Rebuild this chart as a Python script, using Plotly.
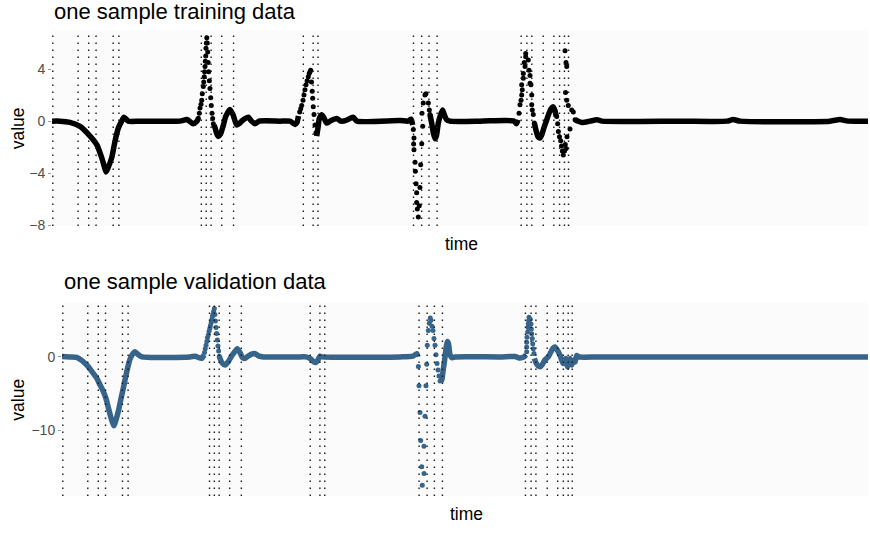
import plotly.graph_objects as go

# ---------------- training sample ----------------
# smooth stretches of the signal (None separates the stretches)
train_line_time = [
    0, 9.8, 22.1, 34.3, 45.3, 54.8, 60.9, 63.7, 66.2, 68.6, 73.2, 77.2, 81.2, 85.4, 88.2, 93.5,
    107.8, 156.9, 165.4, 172.8, 177.7, 179.3, None,
    198.5, 199.8, 201.8, 203.8, 206.5, 209.6, 213.2, 218.1, 221.8, 226.3, 229.2, 232.5, 236.5,
    240.6, 244.5, 248.8, 253.7, 279.4, 291.7, 297.8, 300.2, 302.0, None,
    324.4, 326.0, 327.6, 330.5, 333.3, 336.6, 340.7, 348.9, 354.2, 360.3, 368.9, 373.8, 426.5,
    436.3, 440.0, 442.0, None,
    463.2, 465.3, 467.3, 469.4, 471.2, 473.4, 475.5, 478.6, 480.8, 483.7, 487.7, 524.5, 555.1,
    566.2, 569.2, 571.1, None,
    591.1, 594.0, 595.6, 598.0, 600.5, 602.9, 606.3, 609.1, 611.5, 614.3, 616.4, 617.9, None,
    641.0, 644.6, 649.5, 659.3, 667.9, 674.0, 769.6, 827.2, 834.6, 843.1, 953.4, 965.7, 975.5, 1000,
]
train_line_value = [
    0, 0, -0.1, -0.4, -1.05, -1.8, -2.8, -3.4, -3.9, -3.6, -2.8, -1.55, -0.55, 0.0, 0.3, 0.0,
    0.0, 0.0, 0.12, -0.2, 0.0, 0.2, None,
    -0.3, -0.5, -0.95, -1.17, -1.0, -0.4, 0.4, 0.9, 0.5, -0.3, -0.2, 0.0, 0.2,
    0.3, 0.0, -0.2, 0.0, 0.0, 0.0, -0.25, -0.1, 0.4, None,
    -1.15, -0.5, 0.2, 0.5, 0.25, -0.15, 0.0, 0.2, 0.0, 0.05, 0.3, 0.0, 0.05,
    0.0, 0.15, -0.3, None,
    0.5, -0.15, -0.9, -1.35, -1.1, -0.15, 0.35, 0.85, 0.5, 0.1, 0.0, 0.0, 0.05,
    0.0, -0.2, 0.1, None,
    -0.15, -0.9, -1.2, -1.3, -1.0, -0.5, 0.1, 0.6, 0.95, 1.1, 0.8, 0.35, None,
    0.1, 0.0, -0.1, 0.0, 0.1, 0.0, 0.0, 0.0, 0.12, 0.0, 0.0, 0.12, 0.0, 0.0,
]
# individual samples around the sharp events
train_spike_time = [
    179.3, 180.5, 181.4, 182.6, 183.5, 184.2, 185.4, 186.0, 186.6, 187.0, 187.5, 187.9, 188.4,
    188.7, 189.2, 189.7, 190.3, 190.8, 191.4, 192.0, 192.8, 193.6, 194.5, 195.2, 196.1, 196.9, 197.7,
    303.5, 304.8, 306.0, 307.6, 308.8, 310.0, 311.3, 312.7, 314.1, 315.2, 316.2, 317.0, 318.0,
    318.9, 319.5, 320.2, 321.1, 322.3, 323.5,
    442.8, 443.6, 443.2, 443.6, 444.9, 445.3, 446.1, 446.9, 446.9, 447.7, 448.9, 450.1, 450.9,
    451.8, 453.1, 454.3, 453.4, 455.0, 457.1, 458.3, 461.2, 462.4, 463.2,
    572.3, 573.5, 574.8, 575.6, 576.3, 575.6, 577.6, 577.6, 579.7, 578.8, 580.5, 580.5,
    583.7, 584.6, 585.8, 585.8, 587.0, 587.9, 587.9, 588.6, 589.8, 591.1,
    618.5, 619.7, 620.5, 621.9, 623.4, 624.4, 625.4, 626.6, 628.1, 629.0, 630.1, 631.1,
    628.7, 629.9, 630.8, 629.3, 630.8, 632.7, 634.8, 636.9, 638.9, 641.0,
]
train_spike_value = [
    0.23, 0.6, 1.0, 1.3, 1.6, 2.1, 2.65, 3.0, 3.4, 3.8, 4.2, 4.6, 5.0,
    5.6, 6.0, 6.4, 6.0, 5.3, 4.5, 3.8, 3.1, 2.5, 1.8, 1.2, 0.6, 0.2, -0.2,
    0.7, 0.95, 1.2, 1.6, 2.0, 2.4, 2.8, 3.1, 3.4, 3.65, 3.8, 3.9, 3.0,
    2.3, 1.75, 1.1, 0.5, -0.3, -0.9,
    -0.65, -1.3, -1.75, -2.2, -3.15, -3.85, -4.8, -5.5, -6.25, -6.75, -7.35, -6.5, -5.1,
    -3.35, -1.73, -0.4, 0.6, 1.4, 2.0, 2.1, 1.4, 0.85, 0.5,
    0.6, 1.25, 1.6, 2.0, 2.4, 2.8, 3.3, 3.65, 4.2, 4.5, 4.95, 5.2,
    4.7, 3.9, 3.5, 2.9, 2.8, 2.0, 1.25, 0.85, 0.5, -0.15,
    0.35, -0.2, -0.8, -1.2, -1.5, -1.9, -2.3, -2.6, -2.3, -1.8, -2.1, -1.2,
    5.4, 4.5, 4.2, 2.2, 1.6, 1.2, -0.6, 0.85, 0.7, 0.1,
]

# ---------------- validation sample ----------------
valid_line_time = [
    0, 9.9, 18.2, 24.8, 30.6, 37.2, 43.1, 47.1, 51.2, 54.6, 57.4, 60.8, 64.5, 67.0, 69.9, 73.2,
    76.1, 79.4, 82.3, 84.4, 86.5, 90.6, 94.7, 99.3, 158.8, 165.0, 173.3, 176.2, None,
    195.2, 196.0, 198.5, 202.2, 206.0, 209.7, 212.5, 217.5, 220.8, 223.9, 227.0, 230.8, 234.5,
    239.5, 244.4, 249.8, 295.3, 302.7, 307.7, 312.7, 315.1, 317.6, 320.1, 322.6, 419.4, 435.5,
    440.1, 441.7, None,
    470.2, 471.5, 472.7, 474.6, 476.4, 478.0, 479.5, 481.4, 483.9, 487.6, 543.4, 562.0, 568.2,
    573.2, 575.7, None,
    586.0, 588.1, 590.6, 593.1, 595.5, 599.3, 603.3, 606.7, 609.2, 611.7, 614.1, 617.9, 620.3,
    622.0, 624.1, 625.3, 627.4, 629.0, 630.3, 632.4, 634.0, 636.5, 638.6, 641.4, 667.5, 1000,
]
valid_line_value = [
    0.05, 0.0, -0.05, -0.5, -1.1, -2.0, -2.9, -3.8, -4.7, -5.7, -6.9, -8.3, -9.4, -8.6, -7.4, -5.7,
    -4.25, -2.5, -1.1, -0.3, 0.2, 0.7, 0.3, 0.0, 0.0, 0.1, -0.2, 0.3, None,
    0.1, -0.2, -0.8, -1.1, -0.7, 0.0, 0.45, 1.1, 0.6, -0.1, -0.2, 0.1, 0.35,
    0.45, 0.1, 0.0, 0.0, 0.0, -0.2, -0.7, -0.75, -0.4, 0.1, 0.0, 0.0, 0.1,
    0.45, 0.0, None,
    -3.4, -3.0, -2.0, -0.5, 1.1, 2.1, 1.8, 0.3, -0.1, 0.0, 0.0, 0.05, -0.15,
    0.0, 0.3, None,
    -0.2, -0.8, -1.2, -1.35, -1.1, -0.4, 0.0, 0.7, 1.2, 1.35, 1.0, 0.2, -0.5,
    -0.9, -0.6, -0.2, -1.35, -0.6, -0.2, -1.1, -0.5, -0.7, 0.2, 0.0, 0.0, 0.0,
]
valid_spike_time = [
    176.8, 177.7, 178.7, 179.7, 180.5, 181.5, 182.4, 183.4, 184.2, 185.1, 185.9, 186.6, 187.3,
    188.1, 189.0, 189.7, 190.4, 191.1, 191.8, 192.7, 193.5, 194.3, 195.2,
    442.1, 442.9, 444.2, 445.0, 446.3, 447.0, 449.1, 449.1, 450.4, 451.6,
    452.5, 453.2, 454.5, 455.7, 456.9, 457.8, 459.1, 460.3, 461.5, 462.8, 464.0, 465.3, 466.5,
    467.7, 469.0,
    576.5, 576.5, 576.5, 576.9, 577.8, 578.2, 578.5, 579.0, 579.4, 581.0, 581.9, 582.3, 582.8,
    583.5, 584.0, 584.7, 585.6,
]
valid_spike_value = [
    0.6, 1.1, 1.6, 2.1, 2.6, 3.0, 3.5, 3.9, 4.3, 4.7, 5.1, 5.5, 5.8,
    6.2, 6.6, 5.8, 4.9, 4.0, 3.2, 2.3, 1.5, 0.8, 0.1,
    -1.3, -3.95, -7.6, -11.4, -15.0, -17.5, -15.9, -12.2, -8.1, -3.95,
    -1.0, 1.6, 3.6, 4.6, 5.3, 5.0, 4.2, 3.6, 2.5, 1.6, 0.3, -0.9, -1.8,
    -2.6, -3.3,
    0.7, 1.35, 2.0, 2.7, 3.4, 4.0, 4.5, 4.95, 5.4, 5.15, 4.5, 3.8, 3.15,
    2.5, 1.8, 1.1, 0.45,
]

# event times marked by dotted vertical lines (same in both samples)
event_times = [1, 32, 45, 54, 75, 82, 183, 189, 195, 208, 222.5, 308, 320, 326,
               443, 453, 462, 472, 575, 582, 588, 602, 615, 622, 628, 633]

train_ticks = [-8, -4, 0, 4]
valid_ticks = [-10, 0]

TRAIN_COLOR = "black"
VALID_COLOR = "#36648B"
FONT = "Liberation Sans, Arial, Helvetica, sans-serif"

W, H = 870, 535

fig = go.Figure()

fig.add_trace(go.Scatter(x=train_line_time, y=train_line_value, mode="lines",
                         line=dict(color=TRAIN_COLOR, width=5.5, shape="spline", smoothing=0.6),
                         xaxis="x", yaxis="y", showlegend=False, hoverinfo="skip"))
fig.add_trace(go.Scatter(x=train_spike_time, y=train_spike_value, mode="markers",
                         marker=dict(color=TRAIN_COLOR, size=5),
                         xaxis="x", yaxis="y", showlegend=False))
fig.add_trace(go.Scatter(x=valid_line_time, y=valid_line_value, mode="lines",
                         line=dict(color=VALID_COLOR, width=5.5, shape="spline", smoothing=0.6),
                         xaxis="x2", yaxis="y2", showlegend=False, hoverinfo="skip"))
fig.add_trace(go.Scatter(x=valid_spike_time, y=valid_spike_value, mode="markers",
                         marker=dict(color=VALID_COLOR, size=5),
                         xaxis="x2", yaxis="y2", showlegend=False))

shapes = []
for xr, yr in (("x", "y domain"), ("x2", "y2 domain")):
    for t in event_times:
        shapes.append(dict(type="line", xref=xr, yref=yr, x0=t, x1=t, y0=0, y1=1,
                           line=dict(color="#1a1a1a", width=1.4, dash="1.5px,5.5px"),
                           layer="above"))

def px_x(p):
    return p / W

def px_y(p):
    return 1 - p / H

axis_common = dict(showgrid=False, zeroline=False, showline=False)
xaxis_style = dict(axis_common, range=[0, 1000], showticklabels=False, ticks="")
yaxis_style = dict(axis_common, ticks="outside", ticklen=3, tickcolor="#9a9a9a", tickwidth=1,
                   tickfont=dict(family=FONT, size=14, color="#4d4d4d"))

annotations = [
    dict(text="one sample training data", x=px_x(52), y=px_y(12), xref="paper", yref="paper",
         xanchor="left", yanchor="middle", showarrow=False,
         font=dict(family=FONT, size=22, color="black")),
    dict(text="one sample validation data", x=px_x(62), y=px_y(285), xref="paper", yref="paper",
         xanchor="left", yanchor="middle", showarrow=False,
         font=dict(family=FONT, size=22, color="black")),
    dict(text="value", x=px_x(18), y=px_y(130), xref="paper", yref="paper", textangle=-90,
         xanchor="center", yanchor="middle", showarrow=False,
         font=dict(family=FONT, size=17.5, color="black")),
    dict(text="value", x=px_x(18), y=px_y(405), xref="paper", yref="paper", textangle=-90,
         xanchor="center", yanchor="middle", showarrow=False,
         font=dict(family=FONT, size=17.5, color="black")),
    dict(text="time", x=px_x(462), y=px_y(247), xref="paper", yref="paper",
         xanchor="center", yanchor="middle", showarrow=False,
         font=dict(family=FONT, size=17.5, color="black")),
    dict(text="time", x=px_x(466), y=px_y(521), xref="paper", yref="paper",
         xanchor="center", yanchor="middle", showarrow=False,
         font=dict(family=FONT, size=17.5, color="black")),
]

fig.update_layout(
    width=W, height=H,
    margin=dict(l=0, r=0, t=0, b=0),
    paper_bgcolor="white",
    plot_bgcolor="#fbfbfb",
    xaxis=dict(xaxis_style, domain=[px_x(52), px_x(868)], anchor="y"),
    yaxis=dict(yaxis_style, domain=[px_y(229), px_y(31)], range=[-8.05, 6.95],
               tickvals=train_ticks, anchor="x"),
    xaxis2=dict(xaxis_style, domain=[px_x(62), px_x(868)], anchor="y2"),
    yaxis2=dict(yaxis_style, domain=[px_y(502.7), px_y(306.7)], range=[-19.0, 7.4],
                tickvals=valid_ticks, anchor="x2"),
    shapes=shapes,
    annotations=annotations,
)

fig.write_html("out.html")
